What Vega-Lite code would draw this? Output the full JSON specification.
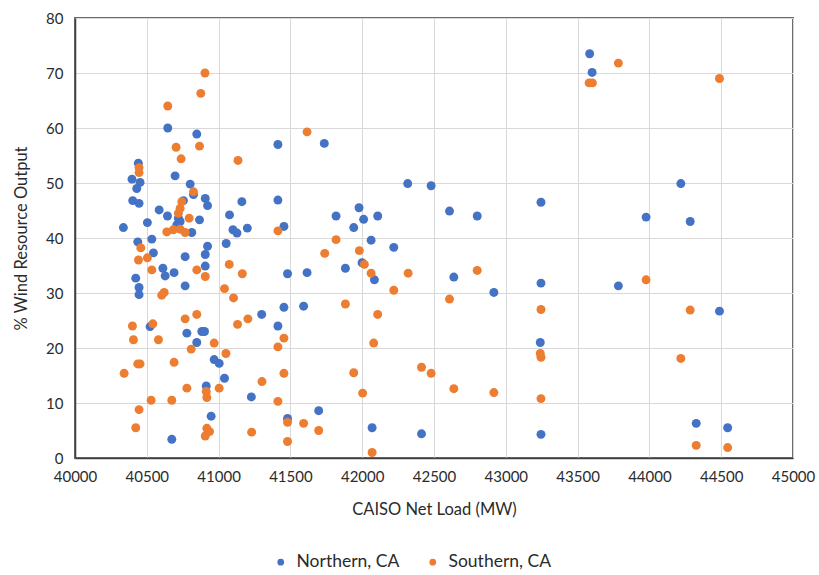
{
  "$schema": "https://vega.github.io/schema/vega-lite/v6.json",
  "width": 718,
  "height": 440,
  "autosize": {"type": "none"},
  "padding": {"left": 75, "top": 18, "right": 26, "bottom": 117},
  "background": "white",
  "config": {
    "font": "Lato",
    "view": {"stroke": "#6b6b6b", "strokeWidth": 2},
    "axis": {"labelFont": "Lato", "titleFont": "Lato", "labelColor": "#2b2b2b", "titleColor": "#2b2b2b", "gridColor": "#d9d9d9", "gridWidth": 1, "ticks": false, "domainColor": "#404040", "domainWidth": 1.5}
  },
  "datasets": {
    "pts": [
      {"load": 40337, "pct": 41.9, "region": "Northern, CA"},
      {"load": 40397, "pct": 50.7, "region": "Northern, CA"},
      {"load": 40453, "pct": 50.1, "region": "Northern, CA"},
      {"load": 40430, "pct": 49.0, "region": "Northern, CA"},
      {"load": 40402, "pct": 46.8, "region": "Northern, CA"},
      {"load": 40446, "pct": 46.3, "region": "Northern, CA"},
      {"load": 40441, "pct": 53.6, "region": "Northern, CA"},
      {"load": 40437, "pct": 39.3, "region": "Northern, CA"},
      {"load": 40535, "pct": 39.8, "region": "Northern, CA"},
      {"load": 40504, "pct": 42.8, "region": "Northern, CA"},
      {"load": 40546, "pct": 37.3, "region": "Northern, CA"},
      {"load": 40586, "pct": 45.1, "region": "Northern, CA"},
      {"load": 40644, "pct": 44.0, "region": "Northern, CA"},
      {"load": 40646, "pct": 60.0, "region": "Northern, CA"},
      {"load": 40697, "pct": 51.3, "region": "Northern, CA"},
      {"load": 40612, "pct": 34.5, "region": "Northern, CA"},
      {"load": 40628, "pct": 33.1, "region": "Northern, CA"},
      {"load": 40690, "pct": 33.7, "region": "Northern, CA"},
      {"load": 40423, "pct": 32.7, "region": "Northern, CA"},
      {"load": 40446, "pct": 31.0, "region": "Northern, CA"},
      {"load": 40446, "pct": 29.7, "region": "Northern, CA"},
      {"load": 40523, "pct": 23.9, "region": "Northern, CA"},
      {"load": 40674, "pct": 3.4, "region": "Northern, CA"},
      {"load": 40720, "pct": 43.6, "region": "Northern, CA"},
      {"load": 40732, "pct": 43.0, "region": "Northern, CA"},
      {"load": 40709, "pct": 42.4, "region": "Northern, CA"},
      {"load": 40755, "pct": 46.8, "region": "Northern, CA"},
      {"load": 40767, "pct": 36.6, "region": "Northern, CA"},
      {"load": 40767, "pct": 31.3, "region": "Northern, CA"},
      {"load": 40779, "pct": 22.7, "region": "Northern, CA"},
      {"load": 40802, "pct": 49.8, "region": "Northern, CA"},
      {"load": 40825, "pct": 47.9, "region": "Northern, CA"},
      {"load": 40813, "pct": 41.0, "region": "Northern, CA"},
      {"load": 40848, "pct": 58.9, "region": "Northern, CA"},
      {"load": 40848, "pct": 21.0, "region": "Northern, CA"},
      {"load": 40867, "pct": 43.3, "region": "Northern, CA"},
      {"load": 40883, "pct": 23.0, "region": "Northern, CA"},
      {"load": 40902, "pct": 23.0, "region": "Northern, CA"},
      {"load": 40907, "pct": 47.2, "region": "Northern, CA"},
      {"load": 40923, "pct": 45.9, "region": "Northern, CA"},
      {"load": 40923, "pct": 38.5, "region": "Northern, CA"},
      {"load": 40907, "pct": 37.0, "region": "Northern, CA"},
      {"load": 40907, "pct": 34.9, "region": "Northern, CA"},
      {"load": 40914, "pct": 13.1, "region": "Northern, CA"},
      {"load": 40948, "pct": 7.6, "region": "Northern, CA"},
      {"load": 40969, "pct": 17.9, "region": "Northern, CA"},
      {"load": 41004, "pct": 17.2, "region": "Northern, CA"},
      {"load": 41041, "pct": 14.5, "region": "Northern, CA"},
      {"load": 41053, "pct": 39.0, "region": "Northern, CA"},
      {"load": 41076, "pct": 44.2, "region": "Northern, CA"},
      {"load": 41100, "pct": 41.5, "region": "Northern, CA"},
      {"load": 41128, "pct": 40.9, "region": "Northern, CA"},
      {"load": 41162, "pct": 46.6, "region": "Northern, CA"},
      {"load": 41200, "pct": 41.8, "region": "Northern, CA"},
      {"load": 41228, "pct": 11.1, "region": "Northern, CA"},
      {"load": 41300, "pct": 26.1, "region": "Northern, CA"},
      {"load": 41413, "pct": 57.0, "region": "Northern, CA"},
      {"load": 41413, "pct": 46.9, "region": "Northern, CA"},
      {"load": 41413, "pct": 24.0, "region": "Northern, CA"},
      {"load": 41455, "pct": 42.1, "region": "Northern, CA"},
      {"load": 41455, "pct": 27.4, "region": "Northern, CA"},
      {"load": 41480, "pct": 33.5, "region": "Northern, CA"},
      {"load": 41480, "pct": 7.2, "region": "Northern, CA"},
      {"load": 41592, "pct": 27.6, "region": "Northern, CA"},
      {"load": 41616, "pct": 33.7, "region": "Northern, CA"},
      {"load": 41697, "pct": 8.6, "region": "Northern, CA"},
      {"load": 41736, "pct": 57.2, "region": "Northern, CA"},
      {"load": 41818, "pct": 44.0, "region": "Northern, CA"},
      {"load": 41883, "pct": 34.5, "region": "Northern, CA"},
      {"load": 41941, "pct": 41.9, "region": "Northern, CA"},
      {"load": 41978, "pct": 45.5, "region": "Northern, CA"},
      {"load": 41999, "pct": 35.5, "region": "Northern, CA"},
      {"load": 42010, "pct": 43.4, "region": "Northern, CA"},
      {"load": 42062, "pct": 39.6, "region": "Northern, CA"},
      {"load": 42069, "pct": 5.5, "region": "Northern, CA"},
      {"load": 42085, "pct": 32.4, "region": "Northern, CA"},
      {"load": 42108, "pct": 44.0, "region": "Northern, CA"},
      {"load": 42220, "pct": 38.3, "region": "Northern, CA"},
      {"load": 42317, "pct": 49.9, "region": "Northern, CA"},
      {"load": 42413, "pct": 4.4, "region": "Northern, CA"},
      {"load": 42480, "pct": 49.5, "region": "Northern, CA"},
      {"load": 42608, "pct": 44.9, "region": "Northern, CA"},
      {"load": 42638, "pct": 32.9, "region": "Northern, CA"},
      {"load": 42801, "pct": 44.0, "region": "Northern, CA"},
      {"load": 42917, "pct": 30.1, "region": "Northern, CA"},
      {"load": 43245, "pct": 46.5, "region": "Northern, CA"},
      {"load": 43245, "pct": 31.8, "region": "Northern, CA"},
      {"load": 43240, "pct": 21.0, "region": "Northern, CA"},
      {"load": 43245, "pct": 4.3, "region": "Northern, CA"},
      {"load": 43584, "pct": 73.5, "region": "Northern, CA"},
      {"load": 43601, "pct": 70.1, "region": "Northern, CA"},
      {"load": 43784, "pct": 31.3, "region": "Northern, CA"},
      {"load": 43977, "pct": 43.8, "region": "Northern, CA"},
      {"load": 44219, "pct": 49.9, "region": "Northern, CA"},
      {"load": 44284, "pct": 43.0, "region": "Northern, CA"},
      {"load": 44326, "pct": 6.3, "region": "Northern, CA"},
      {"load": 44488, "pct": 26.7, "region": "Northern, CA"},
      {"load": 44545, "pct": 5.5, "region": "Northern, CA"},
      {"load": 40342, "pct": 15.4, "region": "Southern, CA"},
      {"load": 40400, "pct": 24.0, "region": "Southern, CA"},
      {"load": 40407, "pct": 21.5, "region": "Southern, CA"},
      {"load": 40423, "pct": 5.5, "region": "Southern, CA"},
      {"load": 40437, "pct": 17.1, "region": "Southern, CA"},
      {"load": 40453, "pct": 17.1, "region": "Southern, CA"},
      {"load": 40446, "pct": 8.8, "region": "Southern, CA"},
      {"load": 40446, "pct": 52.8, "region": "Southern, CA"},
      {"load": 40446, "pct": 51.9, "region": "Southern, CA"},
      {"load": 40458, "pct": 38.2, "region": "Southern, CA"},
      {"load": 40442, "pct": 36.0, "region": "Southern, CA"},
      {"load": 40504, "pct": 36.4, "region": "Southern, CA"},
      {"load": 40530, "pct": 10.5, "region": "Southern, CA"},
      {"load": 40535, "pct": 34.2, "region": "Southern, CA"},
      {"load": 40542, "pct": 24.4, "region": "Southern, CA"},
      {"load": 40581, "pct": 21.5, "region": "Southern, CA"},
      {"load": 40604, "pct": 29.6, "region": "Southern, CA"},
      {"load": 40621, "pct": 30.1, "region": "Southern, CA"},
      {"load": 40639, "pct": 41.1, "region": "Southern, CA"},
      {"load": 40646, "pct": 64.0, "region": "Southern, CA"},
      {"load": 40674, "pct": 10.5, "region": "Southern, CA"},
      {"load": 40690, "pct": 17.4, "region": "Southern, CA"},
      {"load": 40685, "pct": 41.5, "region": "Southern, CA"},
      {"load": 40704, "pct": 56.5, "region": "Southern, CA"},
      {"load": 40732, "pct": 41.6, "region": "Southern, CA"},
      {"load": 40739, "pct": 54.4, "region": "Southern, CA"},
      {"load": 40744, "pct": 46.6, "region": "Southern, CA"},
      {"load": 40732, "pct": 45.4, "region": "Southern, CA"},
      {"load": 40720, "pct": 44.5, "region": "Southern, CA"},
      {"load": 40767, "pct": 41.0, "region": "Southern, CA"},
      {"load": 40767, "pct": 25.3, "region": "Southern, CA"},
      {"load": 40779, "pct": 12.7, "region": "Southern, CA"},
      {"load": 40795, "pct": 43.6, "region": "Southern, CA"},
      {"load": 40809, "pct": 19.8, "region": "Southern, CA"},
      {"load": 40825, "pct": 48.4, "region": "Southern, CA"},
      {"load": 40848, "pct": 34.2, "region": "Southern, CA"},
      {"load": 40848, "pct": 26.1, "region": "Southern, CA"},
      {"load": 40867, "pct": 56.7, "region": "Southern, CA"},
      {"load": 40876, "pct": 66.3, "region": "Southern, CA"},
      {"load": 40905, "pct": 70.0, "region": "Southern, CA"},
      {"load": 40907, "pct": 33.0, "region": "Southern, CA"},
      {"load": 40914, "pct": 12.1, "region": "Southern, CA"},
      {"load": 40918, "pct": 11.0, "region": "Southern, CA"},
      {"load": 40918, "pct": 5.4, "region": "Southern, CA"},
      {"load": 40937, "pct": 4.8, "region": "Southern, CA"},
      {"load": 40907, "pct": 4.0, "region": "Southern, CA"},
      {"load": 40969, "pct": 20.9, "region": "Southern, CA"},
      {"load": 41004, "pct": 12.7, "region": "Southern, CA"},
      {"load": 41041, "pct": 30.8, "region": "Southern, CA"},
      {"load": 41051, "pct": 19.0, "region": "Southern, CA"},
      {"load": 41074, "pct": 35.2, "region": "Southern, CA"},
      {"load": 41104, "pct": 29.1, "region": "Southern, CA"},
      {"load": 41132, "pct": 24.3, "region": "Southern, CA"},
      {"load": 41135, "pct": 54.1, "region": "Southern, CA"},
      {"load": 41165, "pct": 33.5, "region": "Southern, CA"},
      {"load": 41204, "pct": 25.3, "region": "Southern, CA"},
      {"load": 41230, "pct": 4.7, "region": "Southern, CA"},
      {"load": 41302, "pct": 13.9, "region": "Southern, CA"},
      {"load": 41413, "pct": 41.3, "region": "Southern, CA"},
      {"load": 41413, "pct": 20.2, "region": "Southern, CA"},
      {"load": 41413, "pct": 10.3, "region": "Southern, CA"},
      {"load": 41455, "pct": 21.8, "region": "Southern, CA"},
      {"load": 41455, "pct": 15.4, "region": "Southern, CA"},
      {"load": 41480, "pct": 6.5, "region": "Southern, CA"},
      {"load": 41480, "pct": 3.0, "region": "Southern, CA"},
      {"load": 41592, "pct": 6.3, "region": "Southern, CA"},
      {"load": 41616, "pct": 59.3, "region": "Southern, CA"},
      {"load": 41697, "pct": 5.0, "region": "Southern, CA"},
      {"load": 41739, "pct": 37.2, "region": "Southern, CA"},
      {"load": 41818, "pct": 39.7, "region": "Southern, CA"},
      {"load": 41883, "pct": 28.0, "region": "Southern, CA"},
      {"load": 41941, "pct": 15.5, "region": "Southern, CA"},
      {"load": 41980, "pct": 37.7, "region": "Southern, CA"},
      {"load": 42003, "pct": 11.8, "region": "Southern, CA"},
      {"load": 42015, "pct": 35.2, "region": "Southern, CA"},
      {"load": 42062, "pct": 33.6, "region": "Southern, CA"},
      {"load": 42069, "pct": 1.0, "region": "Southern, CA"},
      {"load": 42080, "pct": 20.9, "region": "Southern, CA"},
      {"load": 42108, "pct": 26.1, "region": "Southern, CA"},
      {"load": 42220, "pct": 30.5, "region": "Southern, CA"},
      {"load": 42320, "pct": 33.6, "region": "Southern, CA"},
      {"load": 42413, "pct": 16.5, "region": "Southern, CA"},
      {"load": 42480, "pct": 15.4, "region": "Southern, CA"},
      {"load": 42608, "pct": 28.9, "region": "Southern, CA"},
      {"load": 42638, "pct": 12.6, "region": "Southern, CA"},
      {"load": 42801, "pct": 34.1, "region": "Southern, CA"},
      {"load": 42917, "pct": 11.9, "region": "Southern, CA"},
      {"load": 43245, "pct": 27.0, "region": "Southern, CA"},
      {"load": 43240, "pct": 19.0, "region": "Southern, CA"},
      {"load": 43245, "pct": 18.3, "region": "Southern, CA"},
      {"load": 43245, "pct": 10.8, "region": "Southern, CA"},
      {"load": 43580, "pct": 68.2, "region": "Southern, CA"},
      {"load": 43603, "pct": 68.2, "region": "Southern, CA"},
      {"load": 43784, "pct": 71.8, "region": "Southern, CA"},
      {"load": 43977, "pct": 32.4, "region": "Southern, CA"},
      {"load": 44219, "pct": 18.1, "region": "Southern, CA"},
      {"load": 44284, "pct": 26.9, "region": "Southern, CA"},
      {"load": 44326, "pct": 2.3, "region": "Southern, CA"},
      {"load": 44488, "pct": 69.0, "region": "Southern, CA"},
      {"load": 44545, "pct": 1.9, "region": "Southern, CA"}
    ]
  },
  "data": {"name": "pts"},
  "mark": {"type": "circle", "size": 80, "opacity": 1},
  "encoding": {
    "x": {
      "field": "load", "type": "quantitative",
      "scale": {"domain": [40000, 45000], "nice": false, "zero": false},
      "axis": {"title": "CAISO Net Load (MW)", "values": [40000, 40500, 41000, 41500, 42000, 42500, 43000, 43500, 44000, 44500, 45000], "format": "d", "labelFontSize": 15, "labelPadding": 11, "titleFontSize": 16.5, "titleFontWeight": "normal", "titlePadding": 17, "labelFlush": false}
    },
    "y": {
      "field": "pct", "type": "quantitative",
      "scale": {"domain": [0, 80], "nice": false},
      "axis": {"title": "% Wind Resource Output", "values": [0, 10, 20, 30, 40, 50, 60, 70, 80], "labelFontSize": 15, "labelPadding": 12, "titleFontSize": 16.5, "titleFontWeight": "normal", "titlePadding": 16}
    },
    "color": {
      "field": "region", "type": "nominal",
      "scale": {"domain": ["Northern, CA", "Southern, CA"], "range": ["#4472C4", "#ED7D31"]},
      "legend": {"title": null, "orient": "none", "direction": "horizontal", "legendX": 197, "legendY": 535, "symbolType": "circle", "symbolSize": 45, "labelFontSize": 17.5, "labelColor": "#2b2b2b", "labelFont": "Lato", "columnPadding": 24, "symbolOffset": 0, "labelOffset": 7}
    },
    "order": {"field": "region", "sort": "ascending"}
  }
}
